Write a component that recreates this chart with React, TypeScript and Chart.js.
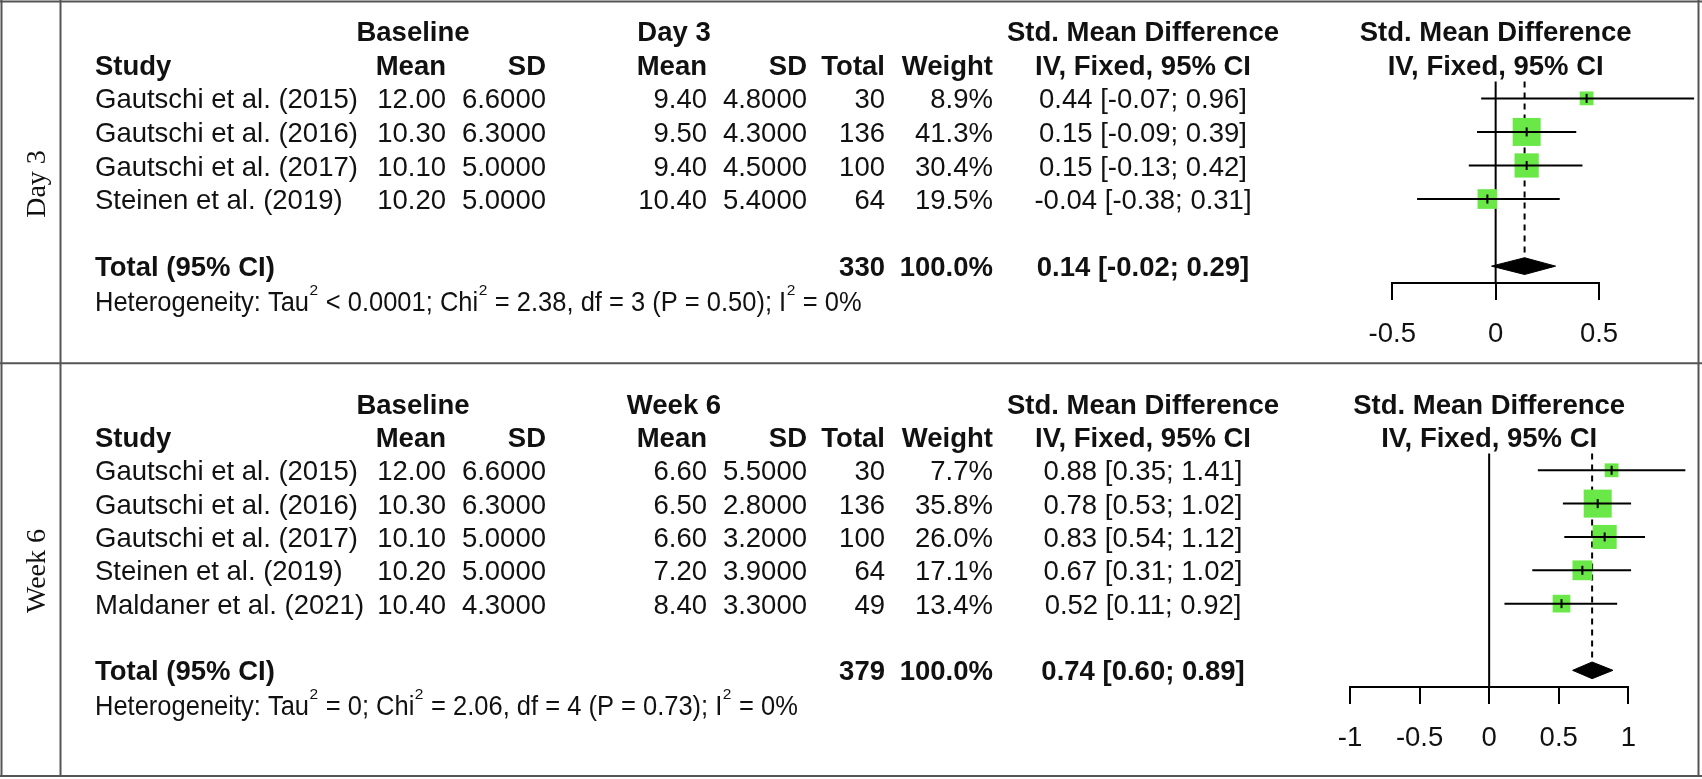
import React, { useEffect, useRef } from "react";
import { Chart, registerables } from "chart.js";

Chart.register(...registerables);

// ---------------- DATA ----------------
const day3Studies = ["Gautschi et al. (2015)", "Gautschi et al. (2016)", "Gautschi et al. (2017)", "Steinen et al. (2019)"];
const day3BaseMean = [12.0, 10.3, 10.1, 10.2];
const day3BaseSD = [6.6, 6.3, 5.0, 5.0];
const day3Mean = [9.4, 9.5, 9.4, 10.4];
const day3SD = [4.8, 4.3, 4.5, 5.4];
const day3N = [30, 136, 100, 64];
const day3Weight = [8.9, 41.3, 30.4, 19.5];
const day3SMD = [0.44, 0.15, 0.15, -0.04];
const day3Lower = [-0.07, -0.09, -0.13, -0.38];
const day3Upper = [0.96, 0.39, 0.42, 0.31];
const day3Pooled = [0.14, -0.02, 0.29];
const day3TotalN = 330;
const day3Het = "Heterogeneity: Tau^2 < 0.0001; Chi^2 = 2.38, df = 3 (P = 0.50); I^2 = 0%";
const day3Ticks = [-0.5, 0, 0.5];
const day3TickLabels = ["-0.5", "0", "0.5"];

const week6Studies = ["Gautschi et al. (2015)", "Gautschi et al. (2016)", "Gautschi et al. (2017)", "Steinen et al. (2019)", "Maldaner et al. (2021)"];
const week6BaseMean = [12.0, 10.3, 10.1, 10.2, 10.4];
const week6BaseSD = [6.6, 6.3, 5.0, 5.0, 4.3];
const week6Mean = [6.6, 6.5, 6.6, 7.2, 8.4];
const week6SD = [5.5, 2.8, 3.2, 3.9, 3.3];
const week6N = [30, 136, 100, 64, 49];
const week6Weight = [7.7, 35.8, 26.0, 17.1, 13.4];
const week6SMD = [0.88, 0.78, 0.83, 0.67, 0.52];
const week6Lower = [0.35, 0.53, 0.54, 0.31, 0.11];
const week6Upper = [1.41, 1.02, 1.12, 1.02, 0.92];
const week6Pooled = [0.74, 0.6, 0.89];
const week6TotalN = 379;
const week6Het = "Heterogeneity: Tau^2 = 0; Chi^2 = 2.06, df = 4 (P = 0.73); I^2 = 0%";
const week6Ticks = [-1, -0.5, 0, 0.5, 1];
const week6TickLabels = ["-1", "-0.5", "0", "0.5", "1"];

// ---------------- STYLE / LAYOUT ----------------
const W = 1702;
const H = 779;
const FONT = '"Liberation Sans", Arial, Helvetica, sans-serif';
const SERIF = '"Liberation Serif", "Times New Roman", serif';
const FS = 27.5;
const HET_FS = 25.5;
const SUP_FS = 15.5;
const TEXT_DY = 2.5;
const TEXT = "#111";
const FRAME = "#555";
const GREEN = "rgb(106, 232, 72)";
const AXIS_H = 60;

const COL = {
  study: 95,
  baseHead: 413,
  baseMean: 446,
  baseSD: 546,
  expHead: 674,
  expMean: 707,
  expSD: 807,
  total: 885,
  weight: 993,
  ci: 1143,
};

type PanelData = {
  side: string;
  expLabel: string;
  studies: string[];
  baseMean: number[];
  baseSD: number[];
  mean: number[];
  sd: number[];
  n: number[];
  weight: number[];
  smd: number[];
  lower: number[];
  upper: number[];
  pooled: number[];
  totalN: number;
  het: string;
  ticks: number[];
  tickLabels: string[];
};

type PanelLayout = {
  top: number;
  height: number;
  chartTop: number;
  chartBottom: number;
  axisMin: number;
  axisMax: number;
  labelY: number;
  first: boolean;
};

const panels: { data: PanelData; layout: PanelLayout }[] = [
  {
    data: {
      side: "Day 3",
      expLabel: "Day 3",
      studies: day3Studies,
      baseMean: day3BaseMean,
      baseSD: day3BaseSD,
      mean: day3Mean,
      sd: day3SD,
      n: day3N,
      weight: day3Weight,
      smd: day3SMD,
      lower: day3Lower,
      upper: day3Upper,
      pooled: day3Pooled,
      totalN: day3TotalN,
      het: day3Het,
      ticks: day3Ticks,
      tickLabels: day3TickLabels,
    },
    layout: { top: 0, height: 366, chartTop: 81.6, chartBottom: 282.9, axisMin: 1392.3, axisMax: 1599, labelY: 184, first: true },
  },
  {
    data: {
      side: "Week 6",
      expLabel: "Week 6",
      studies: week6Studies,
      baseMean: week6BaseMean,
      baseSD: week6BaseSD,
      mean: week6Mean,
      sd: week6SD,
      n: week6N,
      weight: week6Weight,
      smd: week6SMD,
      lower: week6Lower,
      upper: week6Upper,
      pooled: week6Pooled,
      totalN: week6TotalN,
      het: week6Het,
      ticks: week6Ticks,
      tickLabels: week6TickLabels,
    },
    layout: { top: 366, height: 413, chartTop: 453.6, chartBottom: 687.0, axisMin: 1350, axisMax: 1628.3, labelY: 571, first: false },
  },
];

const fmtCI = (e: number, l: number, u: number) => `${e.toFixed(2)} [${l.toFixed(2)}; ${u.toFixed(2)}]`;

function makePlugin(d: PanelData, L: PanelLayout) {
  return {
    id: "forestTable",
    afterDraw(chart: any) {
      const ctx: CanvasRenderingContext2D = chart.ctx;
      const ys = chart.scales.y;
      const xs = chart.scales.x;
      const py = (k: number) => ys.getPixelForValue(k) + TEXT_DY;
      const n = d.studies.length;
      const totalRow = n + 3;
      ctx.save();

      // frame
      ctx.strokeStyle = FRAME;
      ctx.lineWidth = 2;
      ctx.beginPath();
      const h = L.height;
      const bottomLocal = H - 3 - L.top;
      const yEnd = L.first ? h : bottomLocal;
      ctx.moveTo(1.5, 0); ctx.lineTo(1.5, yEnd);
      ctx.moveTo(W - 3.5, 0); ctx.lineTo(W - 3.5, yEnd);
      ctx.moveTo(60.5, 0); ctx.lineTo(60.5, yEnd);
      if (L.first) {
        ctx.moveTo(0, 1.5); ctx.lineTo(W, 1.5);
        ctx.moveTo(0, 363.3); ctx.lineTo(W, 363.3);
      } else {
        ctx.moveTo(0, bottomLocal); ctx.lineTo(W, bottomLocal);
      }
      ctx.stroke();

      // rotated side label
      ctx.fillStyle = TEXT;
      ctx.save();
      ctx.translate(45, L.labelY - L.top);
      ctx.rotate(-Math.PI / 2);
      ctx.font = `28px ${SERIF}`;
      ctx.textAlign = "center";
      ctx.textBaseline = "alphabetic";
      ctx.fillText(d.side, 0, 0);
      ctx.restore();

      const txt = (s: string, x: number, k: number, align: CanvasTextAlign, bold = false) => {
        ctx.font = `${bold ? "bold " : ""}${FS}px ${FONT}`;
        ctx.textAlign = align;
        ctx.textBaseline = "middle";
        ctx.fillText(s, x, py(k));
      };

      // headers
      txt("Baseline", COL.baseHead, 0, "center", true);
      txt(d.expLabel, COL.expHead, 0, "center", true);
      txt("Std. Mean Difference", COL.ci, 0, "center", true);
      txt("Std. Mean Difference", xs.getPixelForValue(0), 0, "center", true);
      txt("Study", COL.study, 1, "left", true);
      txt("Mean", COL.baseMean, 1, "right", true);
      txt("SD", COL.baseSD, 1, "right", true);
      txt("Mean", COL.expMean, 1, "right", true);
      txt("SD", COL.expSD, 1, "right", true);
      txt("Total", COL.total, 1, "right", true);
      txt("Weight", COL.weight, 1, "right", true);
      txt("IV, Fixed, 95% CI", COL.ci, 1, "center", true);
      txt("IV, Fixed, 95% CI", xs.getPixelForValue(0), 1, "center", true);

      // study rows
      d.studies.forEach((s, i) => {
        const k = i + 2;
        txt(s, COL.study, k, "left");
        txt(d.baseMean[i].toFixed(2), COL.baseMean, k, "right");
        txt(d.baseSD[i].toFixed(4), COL.baseSD, k, "right");
        txt(d.mean[i].toFixed(2), COL.expMean, k, "right");
        txt(d.sd[i].toFixed(4), COL.expSD, k, "right");
        txt(String(d.n[i]), COL.total, k, "right");
        txt(d.weight[i].toFixed(1) + "%", COL.weight, k, "right");
        txt(fmtCI(d.smd[i], d.lower[i], d.upper[i]), COL.ci, k, "center");
      });

      // total row
      const wSum = d.weight.reduce((a, b) => a + b, 0);
      txt("Total (95% CI)", COL.study, totalRow, "left", true);
      txt(String(d.totalN), COL.total, totalRow, "right", true);
      txt(Math.round(wSum).toFixed(1) + "%", COL.weight, totalRow, "right", true);
      txt(fmtCI(d.pooled[0], d.pooled[1], d.pooled[2]), COL.ci, totalRow, "center", true);

      // heterogeneity with superscripts
      const parts = d.het.split("^2");
      const base = py(totalRow + 1) + HET_FS * 0.36;
      let cx = COL.study;
      ctx.textAlign = "left";
      ctx.textBaseline = "alphabetic";
      parts.forEach((p, i) => {
        ctx.font = `${HET_FS}px ${FONT}`;
        ctx.save();
        ctx.translate(cx, base);
        ctx.scale(1, 1.07);
        ctx.fillText(p, 0, 0);
        ctx.restore();
        cx += ctx.measureText(p).width;
        if (i < parts.length - 1) {
          ctx.font = `${SUP_FS}px ${FONT}`;
          ctx.fillText("2", cx + 0.5, base - 16);
          cx += ctx.measureText("2").width + 1;
        }
      });

      ctx.restore();
    },
  };
}

function makeConfig(d: PanelData, L: PanelLayout): any {
  const n = d.studies.length;
  const rows = d.studies.map((_, i) => i + 2);
  const totalRow = n + 3;
  const yMin = 1.5;
  const yMax = totalRow + 0.5;
  const wMax = Math.max(...d.weight);
  const radius = d.weight.map((w) => (1.5 + 26.5 * Math.sqrt(w / wMax)) / Math.SQRT2);
  const [est, lo, hi] = d.pooled;

  const ciLines = d.smd.map((_, i) => ({
    data: [
      { x: d.lower[i], y: rows[i] },
      { x: d.upper[i], y: rows[i] },
    ],
    showLine: true,
    borderColor: "#000",
    borderWidth: 2,
    pointRadius: 0,
    order: 1,
    clip: false,
  }));

  return {
    type: "scatter",
    data: {
      datasets: [
        {
          data: d.smd.map((v, i) => ({ x: v, y: rows[i] })),
          pointStyle: "line",
          rotation: 90,
          pointRadius: 4.5,
          borderColor: "#000",
          backgroundColor: "#000",
          borderWidth: 2,
          showLine: false,
          order: 0,
          clip: false,
        },
        ...ciLines,
        {
          data: d.smd.map((v, i) => ({ x: v, y: rows[i] })),
          pointStyle: "rect",
          pointRadius: radius,
          backgroundColor: GREEN,
          borderColor: GREEN,
          borderWidth: 0,
          showLine: false,
          order: 2,
          clip: false,
        },
        {
          data: [
            { x: lo, y: totalRow },
            { x: est, y: totalRow - 0.25 },
            { x: hi, y: totalRow },
            { x: est, y: totalRow + 0.25 },
            { x: lo, y: totalRow },
          ],
          showLine: true,
          fill: "shape",
          backgroundColor: "#000",
          borderColor: "#000",
          borderWidth: 1,
          pointRadius: 0,
          tension: 0,
          order: 1,
          clip: false,
        },
        {
          data: [
            { x: 0, y: yMin },
            { x: 0, y: yMax },
          ],
          showLine: true,
          borderColor: "#000",
          borderWidth: 2,
          pointRadius: 0,
          order: 3,
          clip: false,
        },
        {
          data: [
            { x: est, y: yMin },
            { x: est, y: totalRow - 0.25 },
          ],
          showLine: true,
          borderColor: "#000",
          borderWidth: 2,
          borderDash: [6, 5],
          pointRadius: 0,
          order: 3,
          clip: false,
        },
      ],
    },
    options: {
      responsive: false,
      animation: false,
      events: [],
      layout: {
        padding: {
          left: L.axisMin,
          right: W - L.axisMax,
          top: L.chartTop - L.top,
          bottom: L.height - (L.chartBottom - L.top) - AXIS_H,
        },
      },
      plugins: {
        legend: { display: false },
        tooltip: { enabled: false },
      },
      scales: {
        x: {
          type: "linear",
          position: "bottom",
          min: d.ticks[0],
          max: d.ticks[d.ticks.length - 1],
          afterBuildTicks: (s: any) => {
            s.ticks = d.ticks.map((v) => ({ value: v }));
          },
          afterFit: (s: any) => {
            s.height = AXIS_H;
          },
          grid: {
            display: true,
            drawOnChartArea: false,
            drawTicks: true,
            tickLength: 17,
            color: "#000",
            lineWidth: 2,
          },
          border: { display: true, color: "#000", width: 2 },
          ticks: {
            autoSkip: false,
            maxRotation: 0,
            padding: 18,
            color: TEXT,
            font: { family: FONT, size: FS },
            callback: (_v: any, i: number) => d.tickLabels[i],
          },
        },
        y: {
          type: "linear",
          display: false,
          reverse: true,
          min: yMin,
          max: yMax,
        },
      },
    },
    plugins: [makePlugin(d, L)],
  };
}

function Panel({ data, layout }: { data: PanelData; layout: PanelLayout }) {
  const ref = useRef<HTMLCanvasElement>(null);
  useEffect(() => {
    if (!ref.current) return;
    const chart = new Chart(ref.current, makeConfig(data, layout));
    return () => chart.destroy();
  }, []);
  return (
    <canvas
      ref={ref}
      width={W}
      height={layout.height}
      style={{ position: "absolute", left: 0, top: layout.top, width: W, height: layout.height, display: "block" }}
    />
  );
}

export default function App() {
  return (
    <div style={{ position: "absolute", left: 0, top: 0, width: W, height: H, background: "#fff", overflow: "hidden" }}>
      {panels.map((p, i) => (
        <Panel key={i} data={p.data} layout={p.layout} />
      ))}
    </div>
  );
}
